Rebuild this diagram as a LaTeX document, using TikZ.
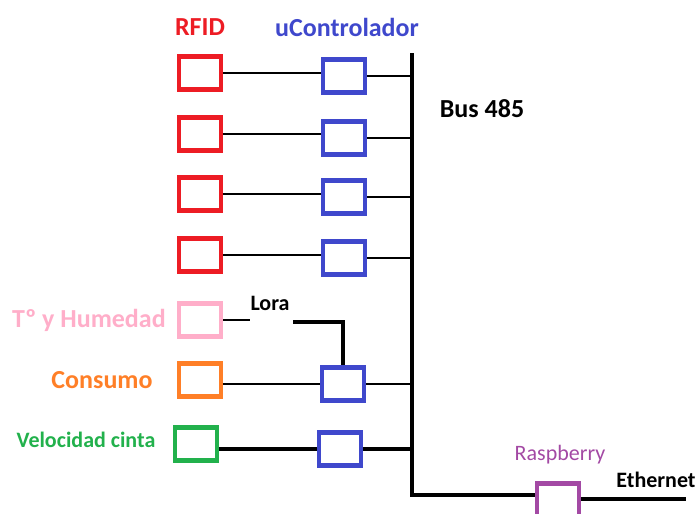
\documentclass[tikz,border=0pt]{standalone}
\usepackage{fontspec}
\setmainfont{Carlito}
\usepackage{tikz}
\usetikzlibrary{calc,positioning}
\definecolor{rfidred}{RGB}{237,28,36}
\definecolor{ucblue}{RGB}{63,72,204}
\definecolor{humpink}{RGB}{255,174,201}
\definecolor{consorange}{RGB}{255,127,39}
\definecolor{velgreen}{RGB}{34,177,76}
\definecolor{rasppurple}{RGB}{163,73,164}

\begin{document}
\begin{tikzpicture}[
    x=0.75pt, y=-0.75pt,
    block/.style={rectangle,draw,line width=3.5pt,fill=white,
                  minimum width=31.5pt,minimum height=24.5pt,inner sep=0pt},
    title/.style={font=\bfseries\fontsize{19.5}{22}\selectfont,inner sep=0pt},
    tag/.style={font=\bfseries\fontsize{16.5}{19}\selectfont,inner sep=0pt},
    wire/.style={draw,line width=2pt},
    thickwire/.style={draw,line width=3.5pt}
]
\useasboundingbox (0,0) rectangle (697,514);

% bus
\coordinate (bustop)    at (412,53);
\coordinate (buscorner) at (412,495);

% nodes
\node[block,draw=rfidred] (r1) at (200,73)  {};
\node[block,draw=rfidred] (r2) at (200,134) {};
\node[block,draw=rfidred] (r3) at (200,194) {};
\node[block,draw=rfidred] (r4) at (200,255) {};
\node[block,draw=ucblue]  (u1) at (344,76)  {};
\node[block,draw=ucblue]  (u2) at (344,138) {};
\node[block,draw=ucblue]  (u3) at (344,197) {};
\node[block,draw=ucblue]  (u4) at (344,258) {};

\node[block,draw=humpink]    (hum)  at (200,320) {};
\node[block,draw=consorange] (cons) at (200,380) {};
\node[block,draw=velgreen]   (vel)  at (196,444) {};
\node[block,draw=ucblue]     (u5)   at (343,384) {};
\node[block,draw=ucblue]     (u6)   at (340,449) {};
\node[block,draw=rasppurple] (rasp) at (558,500) {};

\coordinate (loraA) at (250,320);
\coordinate (loraB) at (293,322);
\coordinate (ethend) at (686,499);

% labels
\node[title,text=rfidred] (rfidlabel) at (200,27) {RFID};
\node[title,text=ucblue]  (uclabel)   at (347,27) {uControlador};
\node[title]              (buslabel)  at (482,109) {Bus 485};
\node[title,text=humpink,anchor=east] (humlabel) at (166,320) {Tº y Humedad};
\node[title,text=consorange] (conslabel) at (102,380) {Consumo};
\node[tag,text=velgreen]     (vellabel)  at (86,440) {Velocidad cinta};
\node[tag]                   (lora)      at (270,303) {Lora};
\node[font=\fontsize{16.5}{19}\selectfont,inner sep=0pt,text=rasppurple]
                             (rasplabel) at (560,455) {Raspberry};
\node[tag]                   (ethlabel)  at (656,480) {Ethernet};

% connectors
\draw[wire] (r1.east) -- (r1.east -| u1.west);
\draw[wire] (r2.east) -- (r2.east -| u2.west);
\draw[wire] (r3.east) -- (r3.east -| u3.west);
\draw[wire] (r4.east) -- (r4.east -| u4.west);
\draw[wire] (u1.east) -- (u1.east -| bustop);
\draw[wire] (u2.east) -- (u2.east -| bustop);
\draw[wire] (u3.east) -- (u3.east -| bustop);
\draw[wire] (u4.east) -- (u4.east -| bustop);

\draw[wire] (hum.east) -- (loraA);
\draw[thickwire] (loraB) -- (loraB -| u5.north) -- (u5.north);
\draw[wire] (u5.west -| cons.east) -- (u5.west);
\draw[wire] (u5.east) -- (u5.east -| bustop);
\draw[thickwire] (u6.west -| vel.east) -- (u6.west);
\draw[thickwire] (u6.east) -- (u6.east -| bustop);

\draw[thickwire] (bustop) -- (buscorner) -- (buscorner -| rasp.west);
\draw[thickwire] (rasp.east |- ethend) -- (ethend);

\end{tikzpicture}
\end{document}
